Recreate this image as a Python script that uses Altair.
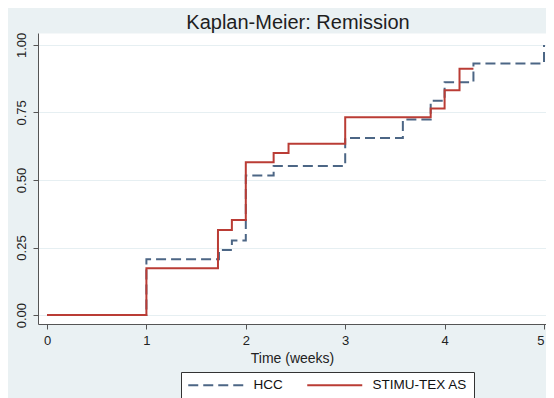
import altair as alt
import pandas as pd

groups = ["HCC", "STIMU-TEX AS"]

hcc_time = [0, 1.0, 1.73, 1.86, 2.0, 2.28, 3.0, 3.58, 3.86, 4.0, 4.29, 5.0]
hcc_surv = [0, 0.207, 0.241, 0.276, 0.517, 0.552, 0.655, 0.724, 0.793, 0.862, 0.931, 1.0]

stim_time = [0, 1.0, 1.72, 1.86, 2.0, 2.28, 2.43, 3.0, 3.86, 4.0, 4.15, 4.29]
stim_surv = [0, 0.173, 0.315, 0.352, 0.566, 0.600, 0.634, 0.732, 0.765, 0.832, 0.912, 0.912]

x_ticks = [0, 1, 2, 3, 4, 5]
y_ticks = [0, 0.25, 0.5, 0.75, 1.0]

df = pd.concat([
    pd.DataFrame({"time": hcc_time, "surv": hcc_surv, "group": groups[0], "ord": 0}),
    pd.DataFrame({"time": stim_time, "surv": stim_surv, "group": groups[1], "ord": 1}),
])

FONT = "Arial"
BG = "#EAF1F3"
AXC = "#555555"

legend = alt.Legend(
    title=None, orient="none", legendX=143, legendY=339, direction="horizontal",
    fillColor="white", strokeColor="#333333", padding=6,
    symbolType="M-1,0H9", symbolSize=121, symbolStrokeWidth=2,
    labelFont=FONT, labelFontSize=13.5, labelColor="#111111",
    labelOffset=53, columnPadding=20,
)

chart = alt.Chart(df).mark_line(interpolate="step-after", strokeWidth=2).encode(
    x=alt.X("time:Q",
            scale=alt.Scale(domain=[-0.0905, 5.02], nice=False, zero=False),
            axis=alt.Axis(values=x_ticks, format="d", title="Time (weeks)", grid=False,
                          tickSize=5, labelPadding=5, titlePadding=4, labelFlush=3,
                          domainColor=AXC, tickColor=AXC, labelColor="#222222",
                          labelFont=FONT, labelFontSize=13, titleFont=FONT,
                          titleFontSize=14, titleFontWeight="normal", titleColor="#222222")),
    y=alt.Y("surv:Q",
            scale=alt.Scale(domain=[-0.033, 1.044], nice=False, zero=False),
            axis=alt.Axis(values=y_ticks, format=".2f", title=None, grid=True,
                          gridColor="#E6EFF2", tickSize=5, labelAngle=270,
                          labelAlign="center", labelBaseline="bottom", labelPadding=5,
                          domainColor=AXC, tickColor=AXC, labelColor="#222222",
                          labelFont=FONT, labelFontSize=13)),
    color=alt.Color("group:N", scale=alt.Scale(domain=groups, range=["#4C6685", "#BA3C35"]),
                    legend=legend),
    strokeDash=alt.StrokeDash("group:N", scale=alt.Scale(domain=groups, range=[[10, 5], [1, 0]]),
                              legend=legend),
    order=alt.Order("ord:Q"),
).properties(
    width=508, height=291,
    title=alt.TitleParams("Kaplan-Meier: Remission", font=FONT, fontSize=20,
                          fontWeight="normal", color="#1e1e1e", anchor="middle",
                          baseline="alphabetic", offset=2, dy=19, dx=6),
    autosize=alt.AutoSizeParams(type="none"),
    padding={"left": 30, "top": 25, "right": 0, "bottom": 74},
    background=BG,
).configure_view(fill="white", stroke="transparent")

chart.save("out.html", embed_options={"renderer": "svg", "actions": False})
